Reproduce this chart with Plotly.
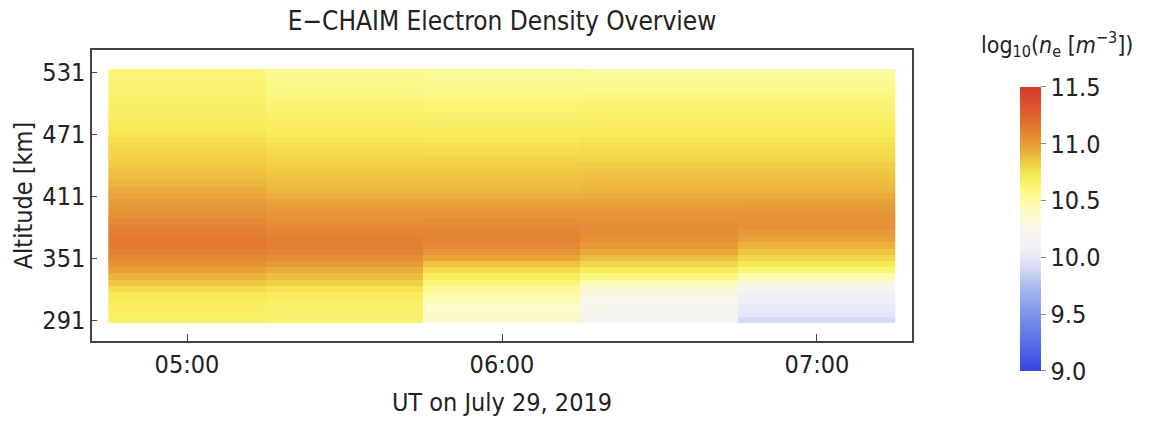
import numpy as np
import plotly.graph_objects as go

times = ["2019-07-29 05:00", "2019-07-29 05:30", "2019-07-29 06:00",
         "2019-07-29 06:30", "2019-07-29 07:00"]
altitudes = list(range(291, 532, 6))

ne_0500 = [10.67, 10.68, 10.69, 10.71, 10.73, 10.78, 10.85, 10.92, 10.98, 11.04,
           11.08, 11.12, 11.14, 11.14, 11.12, 11.10, 11.07, 11.04, 11.02, 10.99,
           10.96, 10.94, 10.91, 10.88, 10.86, 10.84, 10.82, 10.80, 10.78, 10.76,
           10.74, 10.72, 10.70, 10.69, 10.68, 10.67, 10.66, 10.64, 10.63, 10.62, 10.61]
ne_0530 = [10.65, 10.66, 10.67, 10.68, 10.71, 10.75, 10.82, 10.88, 10.94, 11.00,
           11.06, 11.10, 11.12, 11.11, 11.09, 11.07, 11.04, 11.02, 10.99, 10.96,
           10.93, 10.90, 10.88, 10.86, 10.84, 10.82, 10.80, 10.78, 10.76, 10.74,
           10.72, 10.70, 10.68, 10.66, 10.64, 10.62, 10.60, 10.58, 10.57, 10.56, 10.55]
ne_0600 = [10.37, 10.39, 10.41, 10.44, 10.48, 10.54, 10.62, 10.70, 10.78, 10.87,
           10.96, 11.03, 11.08, 11.10, 11.09, 11.07, 11.05, 11.02, 10.99, 10.96,
           10.93, 10.90, 10.88, 10.86, 10.84, 10.82, 10.80, 10.77, 10.75, 10.73,
           10.71, 10.69, 10.67, 10.65, 10.63, 10.61, 10.59, 10.57, 10.55, 10.54, 10.53]
ne_0630 = [10.20, 10.21, 10.23, 10.25, 10.29, 10.36, 10.46, 10.60, 10.71, 10.80,
           10.88, 10.95, 11.00, 11.04, 11.06, 11.06, 11.04, 11.02, 10.99, 10.96,
           10.93, 10.91, 10.89, 10.87, 10.85, 10.83, 10.80, 10.78, 10.76, 10.74,
           10.72, 10.70, 10.68, 10.66, 10.64, 10.62, 10.60, 10.57, 10.55, 10.53, 10.51]
ne_0700 = [9.92, 10.00, 10.03, 10.06, 10.11, 10.19, 10.32, 10.48, 10.63, 10.73,
           10.80, 10.86, 10.92, 10.97, 11.01, 11.04, 11.04, 11.03, 11.00, 10.97,
           10.94, 10.91, 10.89, 10.87, 10.85, 10.83, 10.80, 10.78, 10.76, 10.74,
           10.72, 10.70, 10.68, 10.66, 10.64, 10.62, 10.60, 10.57, 10.55, 10.53, 10.50]

alt_ticks = [291, 351, 411, 471, 531]
cbar_ticks = [9.0, 9.5, 10.0, 10.5, 11.0, 11.5]

z = np.array([ne_0500, ne_0530, ne_0600, ne_0630, ne_0700]).T

colorscale = [
    [0.00, "#3446e0"], [0.14, "#6680e8"], [0.23, "#8aa0ec"], [0.30, "#aabcf0"],
    [0.355, "#d0d8f4"], [0.42, "#eeeef8"], [0.50, "#f7f7ec"], [0.57, "#fcfcc0"],
    [0.63, "#fbfa86"], [0.69, "#f7ea54"], [0.745, "#efc440"], [0.79, "#e8a038"],
    [0.85, "#e27e32"], [0.91, "#dd5e2e"], [1.00, "#d6392b"],
]

FONT = "Liberation Sans Narrow, Arial Narrow, DejaVu Sans Condensed, sans-serif"

fig = go.Figure(go.Heatmap(
    x=times, y=altitudes, z=z, zmin=9.0, zmax=11.5,
    colorscale=colorscale,
    colorbar=dict(
        x=1.1317, xanchor="left", xpad=0, ypad=0, thickness=21,
        lenmode="pixels", len=284, y=0.385, yanchor="middle",
        outlinewidth=0, tickvals=cbar_ticks, tickformat=".1f",
        ticks="outside", ticklen=5, tickcolor="#888",
        tickfont=dict(family=FONT, size=25, color="#222"),
    ),
))

fig.update_layout(
    width=1153, height=425,
    margin=dict(l=92, r=241, t=50, b=84),
    paper_bgcolor="white", plot_bgcolor="white",
    font=dict(family=FONT, color="#222"),
    title=dict(text="E\u2212CHAIM Electron Density Overview", x=0.5, xref="paper",
               xanchor="center", y=0.95, yanchor="middle",
               font=dict(family=FONT, size=26, color="#222")),
    xaxis=dict(
        type="date", range=["2019-07-29 04:41:54", "2019-07-29 07:18:06"],
        tick0="2019-07-29 05:00", dtick=3600000, tickformat="%H:%M",
        ticks="inside", ticklen=7, tickcolor="#444",
        showline=True, linecolor="#444", linewidth=1.5, mirror=True,
        showgrid=False, zeroline=False,
        tickfont=dict(family=FONT, size=25),
        title=dict(text="UT on July 29, 2019", font=dict(family=FONT, size=25), standoff=16),
    ),
    yaxis=dict(
        range=[270.7, 552.3], tickvals=alt_ticks,
        ticks="inside", ticklen=5, tickcolor="#444",
        showline=True, linecolor="#444", linewidth=1.5, mirror=True,
        showgrid=False, zeroline=False,
        tickfont=dict(family=FONT, size=25),
        title=dict(text="Altitude [km]", font=dict(family=FONT, size=25), standoff=3),
    ),
    annotations=[dict(
        text="log<sub>10</sub>(<i>n</i><sub>e</sub> [<i>m</i><sup>\u22123</sup>])",
        xref="paper", yref="paper", x=1.177, y=1.02, xanchor="center", yanchor="middle",
        showarrow=False, font=dict(family=FONT, size=23, color="#222"),
    )],
)

fig.write_html("out.html")
